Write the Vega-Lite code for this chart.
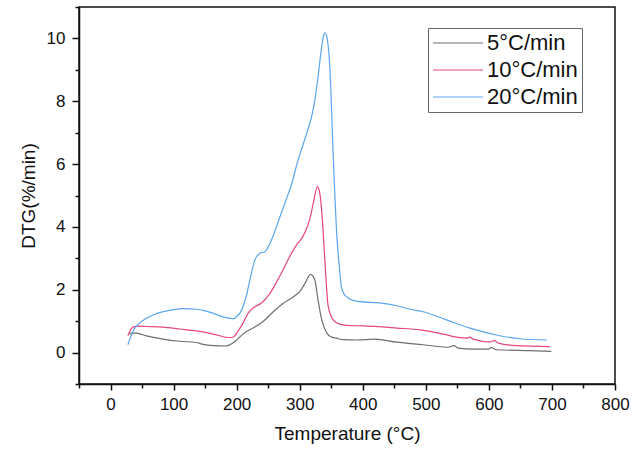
{
  "$schema": "https://vega.github.io/schema/vega-lite/v6.json",
  "width": 536,
  "height": 377,
  "autosize": "none",
  "padding": {"left": 79, "top": 7, "right": 25, "bottom": 68},
  "background": "white",
  "config": {
    "font": "Liberation Sans",
    "view": {"stroke": "#111", "strokeWidth": 1.5},
    "axis": {
      "grid": false,
      "domainColor": "#111",
      "domainWidth": 1.5,
      "tickColor": "#111",
      "tickWidth": 1.5,
      "labelColor": "#111",
      "labelFont": "Liberation Sans",
      "labelFontSize": 17,
      "titleColor": "#111",
      "titleFont": "Liberation Sans",
      "titleFontSize": 19,
      "titleFontWeight": "normal"
    }
  },
  "data": {
    "values": [
      {"T": 30, "v": 0.58, "rate": "5°C/min"},
      {"T": 33, "v": 0.62, "rate": "5°C/min"},
      {"T": 41, "v": 0.62, "rate": "5°C/min"},
      {"T": 57, "v": 0.53, "rate": "5°C/min"},
      {"T": 83, "v": 0.43, "rate": "5°C/min"},
      {"T": 110, "v": 0.36, "rate": "5°C/min"},
      {"T": 136, "v": 0.32, "rate": "5°C/min"},
      {"T": 145, "v": 0.27, "rate": "5°C/min"},
      {"T": 163, "v": 0.22, "rate": "5°C/min"},
      {"T": 184, "v": 0.21, "rate": "5°C/min"},
      {"T": 189, "v": 0.25, "rate": "5°C/min"},
      {"T": 195, "v": 0.32, "rate": "5°C/min"},
      {"T": 200, "v": 0.40, "rate": "5°C/min"},
      {"T": 213, "v": 0.64, "rate": "5°C/min"},
      {"T": 226, "v": 0.78, "rate": "5°C/min"},
      {"T": 242, "v": 0.99, "rate": "5°C/min"},
      {"T": 258, "v": 1.30, "rate": "5°C/min"},
      {"T": 274, "v": 1.57, "rate": "5°C/min"},
      {"T": 290, "v": 1.78, "rate": "5°C/min"},
      {"T": 300, "v": 1.94, "rate": "5°C/min"},
      {"T": 310, "v": 2.26, "rate": "5°C/min"},
      {"T": 317, "v": 2.49, "rate": "5°C/min"},
      {"T": 324, "v": 2.31, "rate": "5°C/min"},
      {"T": 329, "v": 1.68, "rate": "5°C/min"},
      {"T": 335, "v": 1.04, "rate": "5°C/min"},
      {"T": 343, "v": 0.62, "rate": "5°C/min"},
      {"T": 350, "v": 0.50, "rate": "5°C/min"},
      {"T": 358, "v": 0.46, "rate": "5°C/min"},
      {"T": 369, "v": 0.41, "rate": "5°C/min"},
      {"T": 390, "v": 0.40, "rate": "5°C/min"},
      {"T": 419, "v": 0.43, "rate": "5°C/min"},
      {"T": 454, "v": 0.33, "rate": "5°C/min"},
      {"T": 496, "v": 0.25, "rate": "5°C/min"},
      {"T": 536, "v": 0.17, "rate": "5°C/min"},
      {"T": 545, "v": 0.22, "rate": "5°C/min"},
      {"T": 551, "v": 0.14, "rate": "5°C/min"},
      {"T": 575, "v": 0.11, "rate": "5°C/min"},
      {"T": 599, "v": 0.11, "rate": "5°C/min"},
      {"T": 604, "v": 0.16, "rate": "5°C/min"},
      {"T": 612, "v": 0.09, "rate": "5°C/min"},
      {"T": 665, "v": 0.06, "rate": "5°C/min"},
      {"T": 699, "v": 0.04, "rate": "5°C/min"},

      {"T": 27.5, "v": 0.54, "rate": "10°C/min"},
      {"T": 35.5, "v": 0.81, "rate": "10°C/min"},
      {"T": 45, "v": 0.84, "rate": "10°C/min"},
      {"T": 57, "v": 0.83, "rate": "10°C/min"},
      {"T": 83, "v": 0.81, "rate": "10°C/min"},
      {"T": 110, "v": 0.75, "rate": "10°C/min"},
      {"T": 136, "v": 0.69, "rate": "10°C/min"},
      {"T": 163, "v": 0.59, "rate": "10°C/min"},
      {"T": 186.5, "v": 0.48, "rate": "10°C/min"},
      {"T": 192, "v": 0.48, "rate": "10°C/min"},
      {"T": 197, "v": 0.53, "rate": "10°C/min"},
      {"T": 200, "v": 0.62, "rate": "10°C/min"},
      {"T": 210, "v": 0.93, "rate": "10°C/min"},
      {"T": 218, "v": 1.25, "rate": "10°C/min"},
      {"T": 229, "v": 1.46, "rate": "10°C/min"},
      {"T": 239, "v": 1.57, "rate": "10°C/min"},
      {"T": 253, "v": 1.89, "rate": "10°C/min"},
      {"T": 268, "v": 2.42, "rate": "10°C/min"},
      {"T": 284, "v": 3.05, "rate": "10°C/min"},
      {"T": 295, "v": 3.43, "rate": "10°C/min"},
      {"T": 305, "v": 3.69, "rate": "10°C/min"},
      {"T": 313, "v": 4.06, "rate": "10°C/min"},
      {"T": 316, "v": 4.25, "rate": "10°C/min"},
      {"T": 322, "v": 4.8, "rate": "10°C/min"},
      {"T": 328, "v": 5.28, "rate": "10°C/min"},
      {"T": 332, "v": 5.05, "rate": "10°C/min"},
      {"T": 334, "v": 4.7, "rate": "10°C/min"},
      {"T": 336, "v": 4.2, "rate": "10°C/min"},
      {"T": 340, "v": 2.9, "rate": "10°C/min"},
      {"T": 345, "v": 1.5, "rate": "10°C/min"},
      {"T": 353, "v": 1.04, "rate": "10°C/min"},
      {"T": 364, "v": 0.9, "rate": "10°C/min"},
      {"T": 380, "v": 0.86, "rate": "10°C/min"},
      {"T": 400, "v": 0.85, "rate": "10°C/min"},
      {"T": 454, "v": 0.78, "rate": "10°C/min"},
      {"T": 491, "v": 0.72, "rate": "10°C/min"},
      {"T": 528, "v": 0.59, "rate": "10°C/min"},
      {"T": 549, "v": 0.49, "rate": "10°C/min"},
      {"T": 565, "v": 0.46, "rate": "10°C/min"},
      {"T": 570, "v": 0.49, "rate": "10°C/min"},
      {"T": 575, "v": 0.43, "rate": "10°C/min"},
      {"T": 602, "v": 0.34, "rate": "10°C/min"},
      {"T": 609, "v": 0.38, "rate": "10°C/min"},
      {"T": 615, "v": 0.30, "rate": "10°C/min"},
      {"T": 644, "v": 0.22, "rate": "10°C/min"},
      {"T": 697, "v": 0.19, "rate": "10°C/min"},

      {"T": 27.5, "v": 0.25, "rate": "20°C/min"},
      {"T": 33, "v": 0.55, "rate": "20°C/min"},
      {"T": 38.6, "v": 0.78, "rate": "20°C/min"},
      {"T": 45, "v": 0.92, "rate": "20°C/min"},
      {"T": 57, "v": 1.09, "rate": "20°C/min"},
      {"T": 70, "v": 1.22, "rate": "20°C/min"},
      {"T": 83, "v": 1.30, "rate": "20°C/min"},
      {"T": 100, "v": 1.37, "rate": "20°C/min"},
      {"T": 115, "v": 1.40, "rate": "20°C/min"},
      {"T": 136, "v": 1.38, "rate": "20°C/min"},
      {"T": 150, "v": 1.33, "rate": "20°C/min"},
      {"T": 163, "v": 1.25, "rate": "20°C/min"},
      {"T": 175, "v": 1.16, "rate": "20°C/min"},
      {"T": 184, "v": 1.11, "rate": "20°C/min"},
      {"T": 190, "v": 1.09, "rate": "20°C/min"},
      {"T": 196, "v": 1.08, "rate": "20°C/min"},
      {"T": 200, "v": 1.15, "rate": "20°C/min"},
      {"T": 205, "v": 1.25, "rate": "20°C/min"},
      {"T": 210, "v": 1.46, "rate": "20°C/min"},
      {"T": 216, "v": 1.85, "rate": "20°C/min"},
      {"T": 221, "v": 2.31, "rate": "20°C/min"},
      {"T": 229, "v": 2.95, "rate": "20°C/min"},
      {"T": 237, "v": 3.16, "rate": "20°C/min"},
      {"T": 245, "v": 3.21, "rate": "20°C/min"},
      {"T": 253, "v": 3.48, "rate": "20°C/min"},
      {"T": 263, "v": 4.0, "rate": "20°C/min"},
      {"T": 271, "v": 4.45, "rate": "20°C/min"},
      {"T": 280, "v": 4.95, "rate": "20°C/min"},
      {"T": 287, "v": 5.35, "rate": "20°C/min"},
      {"T": 297, "v": 6.1, "rate": "20°C/min"},
      {"T": 305, "v": 6.6, "rate": "20°C/min"},
      {"T": 313, "v": 7.1, "rate": "20°C/min"},
      {"T": 321, "v": 7.7, "rate": "20°C/min"},
      {"T": 328, "v": 8.6, "rate": "20°C/min"},
      {"T": 334, "v": 9.6, "rate": "20°C/min"},
      {"T": 338, "v": 10.1, "rate": "20°C/min"},
      {"T": 340, "v": 10.18, "rate": "20°C/min"},
      {"T": 343, "v": 10.05, "rate": "20°C/min"},
      {"T": 348, "v": 9.0, "rate": "20°C/min"},
      {"T": 353, "v": 6.35, "rate": "20°C/min"},
      {"T": 359, "v": 3.69, "rate": "20°C/min"},
      {"T": 363, "v": 2.7, "rate": "20°C/min"},
      {"T": 366, "v": 2.1, "rate": "20°C/min"},
      {"T": 370, "v": 1.88, "rate": "20°C/min"},
      {"T": 374, "v": 1.78, "rate": "20°C/min"},
      {"T": 385, "v": 1.66, "rate": "20°C/min"},
      {"T": 395, "v": 1.62, "rate": "20°C/min"},
      {"T": 427, "v": 1.58, "rate": "20°C/min"},
      {"T": 454, "v": 1.49, "rate": "20°C/min"},
      {"T": 475, "v": 1.38, "rate": "20°C/min"},
      {"T": 496, "v": 1.30, "rate": "20°C/min"},
      {"T": 533, "v": 1.04, "rate": "20°C/min"},
      {"T": 570, "v": 0.78, "rate": "20°C/min"},
      {"T": 612, "v": 0.56, "rate": "20°C/min"},
      {"T": 649, "v": 0.44, "rate": "20°C/min"},
      {"T": 692, "v": 0.40, "rate": "20°C/min"}
    ]
  },
  "mark": {"type": "line", "strokeWidth": 1.2, "interpolate": "monotone", "clip": true},
  "encoding": {
    "x": {
      "field": "T",
      "type": "quantitative",
      "scale": {"domain": [-50, 800], "nice": false, "zero": false},
      "axis": {
        "title": "Temperature (°C)",
        "values": [-50, 0, 50, 100, 150, 200, 250, 300, 350, 400, 450, 500, 550, 600, 650, 700, 750, 800],
        "labelExpr": "datum.value % 100 === 0 ? datum.label : ''",
        "tickSize": {"condition": {"test": "datum.value % 100 === 0", "value": 6}, "value": 4},
        "labelPadding": 6,
        "labelFlush": false,
        "labelOverlap": false,
        "titlePadding": 12
      }
    },
    "y": {
      "field": "v",
      "type": "quantitative",
      "scale": {"domain": [-1, 11], "nice": false, "zero": false},
      "axis": {
        "title": "DTG(%/min)",
        "values": [-1, 0, 1, 2, 3, 4, 5, 6, 7, 8, 9, 10, 11],
        "labelExpr": "datum.value % 2 === 0 ? datum.label : ''",
        "tickSize": {"condition": {"test": "datum.value % 2 === 0", "value": 7}, "value": 4},
        "labelPadding": 7,
        "labelFlush": false,
        "labelOverlap": false,
        "titlePadding": 8
      }
    },
    "color": {
      "field": "rate",
      "type": "nominal",
      "scale": {
        "domain": ["5°C/min", "10°C/min", "20°C/min"],
        "range": ["#6e6e6e", "#e8467c", "#5aa6ee"]
      },
      "legend": {
        "title": null,
        "orient": "none",
        "legendX": 349,
        "legendY": 21,
        "symbolType": "M-2.5,0H2.5",
        "symbolSize": 400,
        "symbolStrokeWidth": 1.2,
        "symbolOffset": 15,
        "labelFont": "Liberation Sans",
        "labelFontSize": 22,
        "labelColor": "#111",
        "labelOffset": 18,
        "strokeColor": "#666",
        "fillColor": "white",
        "padding": 4,
        "rowPadding": 5
      }
    }
  }
}
